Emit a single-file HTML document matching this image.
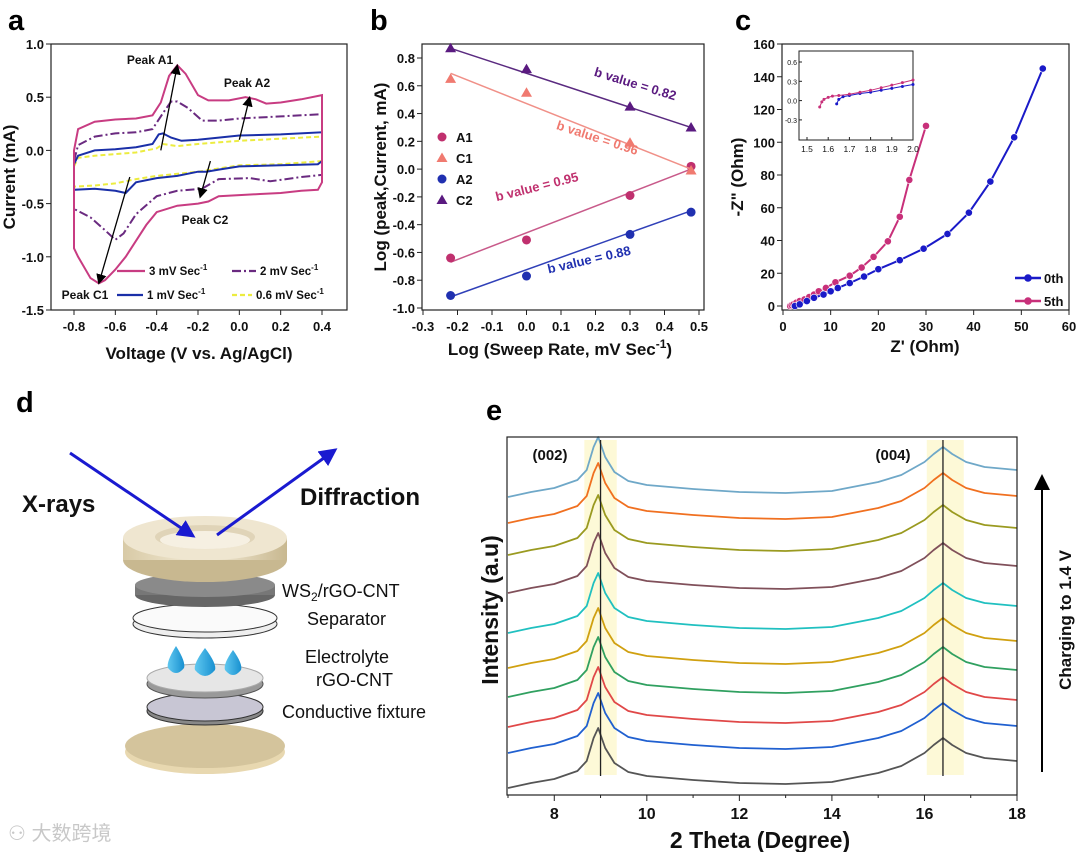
<!DOCTYPE html>
<html><head><meta charset="utf-8">
<style>
html,body{margin:0;padding:0;background:#fff;}
svg{display:block;font-family:"Liberation Sans",Arial,sans-serif;}
.tk{font-size:13px;font-weight:bold;fill:#111;}
.ttl{font-size:17px;font-weight:bold;fill:#111;}
.lt{font-size:29px;font-weight:bold;fill:#000;}
</style></head>
<body>
<svg id="fig" width="1080" height="852" viewBox="0 0 1080 852">
<defs>
<marker id="ah" markerWidth="8" markerHeight="8" refX="7" refY="4" orient="auto"><path d="M0,0 L8,4 L0,8 z" fill="#000"/></marker>
<marker id="ahb" markerWidth="6" markerHeight="6" refX="5" refY="3" orient="auto"><path d="M0,0 L6,3 L0,6 z" fill="#1a1ad0"/></marker>
<linearGradient id="gold" x1="0" x2="1"><stop offset="0" stop-color="#d8caa6"/><stop offset=".5" stop-color="#f4ecd8"/><stop offset="1" stop-color="#c8b890"/></linearGradient>
<linearGradient id="dropg" x1="0" x2="1"><stop offset="0" stop-color="#60c8f0"/><stop offset="1" stop-color="#1890d0"/></linearGradient>
</defs>
<g id="pa"></g>
<g id="pb"></g>
<g id="pc"></g>
<g id="pd">
  <text x="16" y="412" class="lt">d</text>
  <text x="22" y="512" font-size="24" font-weight="bold" fill="#111">X-rays</text>
  <text x="300" y="505" font-size="24" font-weight="bold" fill="#111">Diffraction</text>
  <g>
    <ellipse cx="205" cy="752" rx="80" ry="22" fill="#e8d8b0"/>
    <ellipse cx="205" cy="746" rx="80" ry="22" fill="#d4c49c"/>
  </g>
  <g>
    <ellipse cx="205" cy="711" rx="58" ry="14" fill="#888" stroke="#333"/>
    <ellipse cx="205" cy="707" rx="58" ry="14" fill="#c8c6d4" stroke="#333"/>
  </g>
  <g>
    <ellipse cx="205" cy="684" rx="58" ry="14" fill="#999" stroke="#555"/>
    <ellipse cx="205" cy="678" rx="58" ry="14" fill="#e6e6e6" stroke="#aaa"/>
  </g>
  <g>
    <path d="M176,646 Q166,662 168,668 Q176,678 184,668 Q186,662 176,646z" fill="url(#dropg)"/>
    <path d="M205,648 Q193,664 195,670 Q205,682 215,670 Q217,664 205,648z" fill="url(#dropg)"/>
    <path d="M233,650 Q223,664 225,670 Q233,680 241,670 Q243,664 233,650z" fill="url(#dropg)"/>
  </g>
  <g>
    <ellipse cx="205" cy="624" rx="72" ry="14" fill="#eee" stroke="#333"/>
    <ellipse cx="205" cy="618" rx="72" ry="14" fill="#fafafa" stroke="#333"/>
  </g>
  <g>
    <ellipse cx="205" cy="595" rx="70" ry="12" fill="#666"/>
    <rect x="135" y="585" width="140" height="10" fill="#777"/>
    <ellipse cx="205" cy="585" rx="70" ry="12" fill="#8a8a8a"/>
  </g>
  <g>
    <ellipse cx="205" cy="560" rx="82" ry="22" fill="#c8b890"/>
    <rect x="123" y="538" width="164" height="22" fill="url(#gold)"/>
    <ellipse cx="205" cy="538" rx="82" ry="22" fill="#efe6d0"/>
    <ellipse cx="205" cy="537" rx="50" ry="12" fill="#e0d4b8"/>
    <ellipse cx="205" cy="540" rx="45" ry="9" fill="#f6f0e2"/>
  </g>
  <line x1="70" y1="453" x2="193" y2="536" stroke="#1a1ad0" stroke-width="3" marker-end="url(#ahb)"/>
  <line x1="217" y1="535" x2="335" y2="450" stroke="#1a1ad0" stroke-width="3" marker-end="url(#ahb)"/>
  <g font-size="18" fill="#111">
    <text x="282" y="597">WS<tspan font-size="12" dy="4">2</tspan><tspan dy="-4">/rGO-CNT</tspan></text>
    <text x="307" y="625">Separator</text>
    <text x="305" y="663">Electrolyte</text>
    <text x="316" y="686">rGO-CNT</text>
    <text x="282" y="718">Conductive fixture</text>
  </g>
  <text x="8" y="840" font-size="20" fill="#c8c8c8" font-family="'Liberation Sans','Noto Sans CJK SC',sans-serif">⚇ 大数跨境</text>
</g>
<g id="pe"></g>
</svg>
<script>
// ---------- Panel a data ----------
const cv3x=[-0.8,-0.78,-0.7,-0.6,-0.5,-0.42,-0.38,-0.34,-0.3,-0.26,-0.2,-0.15,-0.05,0.03,0.08,0.13,0.2,0.3,0.4,0.4,0.38,0.3,0.2,0.1,0.0,-0.1,-0.15,-0.2,-0.3,-0.4,-0.45,-0.5,-0.55,-0.6,-0.65,-0.68,-0.72,-0.78,-0.8];
const cv3y=[0.0,0.2,0.27,0.29,0.3,0.33,0.45,0.7,0.8,0.72,0.52,0.47,0.47,0.5,0.48,0.44,0.45,0.48,0.52,-0.3,-0.37,-0.38,-0.4,-0.41,-0.42,-0.43,-0.48,-0.5,-0.52,-0.58,-0.7,-0.85,-1.0,-1.12,-1.22,-1.25,-1.2,-1.0,-0.92];
const cv2x=[-0.8,-0.78,-0.7,-0.6,-0.5,-0.42,-0.37,-0.33,-0.3,-0.25,-0.18,-0.1,0,0.2,0.4,0.4,0.3,0.15,0.05,-0.1,-0.18,-0.3,-0.4,-0.5,-0.56,-0.6,-0.65,-0.72,-0.8];
const cv2y=[-0.1,0.05,0.13,0.16,0.17,0.2,0.35,0.46,0.46,0.4,0.28,0.28,0.3,0.32,0.34,-0.23,-0.25,-0.29,-0.26,-0.27,-0.36,-0.38,-0.43,-0.6,-0.78,-0.84,-0.75,-0.63,-0.55];
const cv1x=[-0.8,-0.78,-0.7,-0.6,-0.5,-0.42,-0.39,-0.37,-0.33,-0.28,-0.2,-0.1,0,0.2,0.4,0.4,0.38,0.2,0.0,-0.1,-0.16,-0.2,-0.3,-0.4,-0.5,-0.55,-0.6,-0.7,-0.8];
const cv1y=[-0.13,-0.05,0.0,0.01,0.03,0.06,0.15,0.16,0.12,0.09,0.1,0.12,0.14,0.15,0.17,-0.1,-0.13,-0.14,-0.15,-0.18,-0.2,-0.2,-0.24,-0.26,-0.3,-0.4,-0.38,-0.36,-0.37];
const cv06x=[-0.8,-0.78,-0.7,-0.5,-0.4,-0.37,-0.3,-0.2,0,0.2,0.4,0.4,0.2,0,-0.2,-0.4,-0.5,-0.6,-0.7,-0.8];
const cv06y=[-0.15,-0.07,-0.05,-0.02,0.02,0.06,0.04,0.06,0.09,0.11,0.13,-0.1,-0.13,-0.14,-0.2,-0.24,-0.27,-0.31,-0.33,-0.34];
const aXTicks=["-0.8","-0.6","-0.4","-0.2","0.0","0.2","0.4"];
const aYTicks=["1.0","0.5","0.0","-0.5","-1.0","-1.5"];
// ---------- Panel b data ----------
const bX=[-0.22,0,0.3,0.477];
const bA1=[-0.64,-0.51,-0.19,0.02];
const bC1=[0.65,0.55,0.19,-0.01];
const bA2=[-0.91,-0.77,-0.47,-0.31];
const bC2=[0.87,0.72,0.45,0.30];
const bFitA1=[-0.67,0.0], bFitC1=[0.69,0.0], bFitA2=[-0.92,-0.30], bFitC2=[0.87,0.30];
const bXTicks=["-0.3","-0.2","-0.1","0.0","0.1","0.2","0.3","0.4","0.5"];
const bYTicks=["0.8","0.6","0.4","0.2","0.0","-0.2","-0.4","-0.6","-0.8","-1.0"];
// ---------- Panel c data ----------
const c0x=[2.5,3.5,5,6.5,8.5,10,11.5,14,17,20,24.5,29.5,34.5,39,43.5,48.5,54.5];
const c0y=[0,1,3,5,7,9,11,14,18,22.5,28,35,44,57,76,103,145];
const c5x=[1.5,1.8,2.2,2.8,3.5,4.5,5.5,6.5,7.5,9,11,14,16.5,19,22,24.5,26.5,30];
const c5y=[0,0.5,1,2,3,4,5.5,7,9,11,14.5,18.5,23.5,30,39.5,54.5,77,110];
const i5x=[1.56,1.57,1.58,1.6,1.62,1.65,1.7,1.75,1.8,1.85,1.9,1.95,2.0];
const i5y=[-0.1,-0.02,0.02,0.05,0.07,0.08,0.1,0.13,0.16,0.2,0.24,0.28,0.32];
const i0x=[1.64,1.65,1.67,1.7,1.75,1.8,1.85,1.9,1.95,2.0];
const i0y=[-0.05,0.02,0.06,0.08,0.11,0.13,0.16,0.19,0.22,0.25];
const cXTicks=["0","10","20","30","40","50","60"];
const cYTicks=["0","20","40","60","80","100","120","140","160"];
// ---------- Panel e data ----------
const eTheta=[7,7.5,8,8.5,8.7,8.85,8.95,9.1,9.3,9.6,10,11,12,13,14,15,15.5,16,16.2,16.4,16.6,16.9,17.3,18];
const eProfile=[-5,0,4,12,22,45,55,35,20,11,7,3,0,-1,1,10,17,30,38,45,38,30,25,22];
const eOffsets=[12,47,73,103,132,167,207,245,277,303];
const eColors=["#555555","#2060d0","#e04848","#30a060","#d0a010","#20c0c0","#80505a","#9a9a20","#f07020","#6fa8c8"];
const eXTicks=["8","10","12","14","16","18"];

const NS="http://www.w3.org/2000/svg";
function mk(parent,tag,attrs){const e=document.createElementNS(NS,tag);for(const k in attrs)e.setAttribute(k,attrs[k]);parent.appendChild(e);return e;}
function txt(parent,x,y,s,attrs){const t=mk(parent,'text',Object.assign({x:x,y:y},attrs||{}));t.textContent=s;return t;}
function lin(d0,d1,r0,r1){return v=>r0+(v-d0)*(r1-r0)/(d1-d0);}
function pathD(xs,ys,sx,sy,close){return xs.map((v,i)=>(i?'L':'M')+sx(v).toFixed(1)+','+sy(ys[i]).toFixed(1)).join(' ')+(close?' Z':'');}

// ===== Panel a =====
(function(){
const g=document.getElementById('pa');
const sx=lin(-0.8,0.4,74,322), sy=lin(1.0,-1.5,44,310);
let t=txt(g,8,30,'a',{class:'lt'});

const box=mk(g,'rect',{x:51,y:44,width:296,height:266,fill:'none',stroke:'#222','stroke-width':1.2});

const xv=[-0.8,-0.6,-0.4,-0.2,0,0.2,0.4];
xv.forEach((v,i)=>{mk(g,'line',{x1:sx(v),x2:sx(v),y1:310,y2:315,stroke:'#222'});
 const l=txt(g,sx(v),331,aXTicks[i],{class:'tk','text-anchor':'middle'});
 });
const yv=[1,0.5,0,-0.5,-1,-1.5];
yv.forEach((v,i)=>{mk(g,'line',{x1:46,x2:51,y1:sy(v),y2:sy(v),stroke:'#222'});
 const l=txt(g,44,sy(v)+5,aYTicks[i],{class:'tk','text-anchor':'end'});
 });
const xt=txt(g,199,359,'Voltage (V vs. Ag/AgCl)',{class:'ttl','text-anchor':'middle'});

const yt=txt(g,0,0,'Current (mA)',{class:'ttl','text-anchor':'middle',transform:'translate(15,177) rotate(-90)'});

const curves=[[cv06x,cv06y,'#ecec40','5,3','cv-0.6mV'],[cv1x,cv1y,'#1a2fa8','','cv-1mV'],[cv2x,cv2y,'#6a2a80','9,3,2,3','cv-2mV'],[cv3x,cv3y,'#c83c82','','cv-3mV']];
curves.forEach(c=>{const p=mk(g,'path',{d:pathD(c[0],c[1],sx,sy,true),fill:'none',stroke:c[2],'stroke-width':2,'stroke-dasharray':c[3]});
 });
const arrows=[[-0.38,0.0,-0.3,0.8],[0.0,0.1,0.05,0.5],[-0.14,-0.1,-0.19,-0.44],[-0.53,-0.25,-0.68,-1.25]];
arrows.forEach(a=>{const l=mk(g,'line',{x1:sx(a[0]),y1:sy(a[1]),x2:sx(a[2]),y2:sy(a[3]),stroke:'#000','stroke-width':1.3,'marker-end':'url(#ah)'});
 });
[['Peak A1',150,64],['Peak A2',247,87],['Peak C2',205,224],['Peak C1',85,299]].forEach(p=>{
 const l=txt(g,p[1],p[2],p[0],{'font-size':12,'font-weight':'bold','text-anchor':'middle',fill:'#111'});
 });
const leg=[[117,145,271,'#c83c82','','3'],[232,256,271,'#6a2a80','9,3,2,3','2'],[117,143,295,'#1a2fa8','','1'],[232,252,295,'#ecec40','5,3','0.6']];
leg.forEach(L=>{const lg=mk(g,'g',{});
 
 mk(lg,'line',{x1:L[0],x2:L[1],y1:L[2],y2:L[2],stroke:L[3],'stroke-width':2.2,'stroke-dasharray':L[4]});
 const tt=txt(lg,L[1]+4,L[2]+4,L[5]+' mV Sec',{'font-size':11.5,'font-weight':'bold',fill:'#111'});
 const sp=mk(tt,'tspan',{'font-size':8,dy:-5});sp.textContent='-1';});
})();

// ===== Panel b =====
(function(){
const g=document.getElementById('pb');
const sx=lin(-0.3,0.5,423,699), sy=lin(0.8,-1.0,58,308);
const t=txt(g,370,30,'b',{class:'lt'});

const box=mk(g,'rect',{x:422,y:44,width:282,height:266,fill:'none',stroke:'#222','stroke-width':1.2});

bXTicks.forEach(s=>{const v=parseFloat(s);mk(g,'line',{x1:sx(v),x2:sx(v),y1:310,y2:315,stroke:'#222'});
 const l=txt(g,sx(v),331,s,{class:'tk','text-anchor':'middle'});
 });
bYTicks.forEach(s=>{const v=parseFloat(s);mk(g,'line',{x1:417,x2:422,y1:sy(v),y2:sy(v),stroke:'#222'});
 const l=txt(g,415,sy(v)+5,s,{class:'tk','text-anchor':'end'});
 });
const xt=txt(g,560,355,'Log (Sweep Rate, mV Sec',{class:'ttl','text-anchor':'middle'});
const sp=mk(xt,'tspan',{'font-size':12,dy:-7});sp.textContent='-1';const sp2=mk(xt,'tspan',{dy:7});sp2.textContent=')';

const yt=txt(g,0,0,'Log (peak,Current, mA)',{class:'ttl','text-anchor':'middle',transform:'translate(386,177) rotate(-90)'});

const ser=[[bA1,bFitA1,'#c0306e','#c85a8a','circle','series-a1'],[bC1,bFitC1,'#f07a70','#f09088','tri','series-c1'],[bA2,bFitA2,'#2030b0','#3040b8','circle','series-a2'],[bC2,bFitC2,'#5a1a80','#5a2a80','tri','series-c2']];
const x0=bX[0],x1=bX[bX.length-1];
ser.forEach(s=>{const sg=mk(g,'g',{});
 
 mk(sg,'line',{x1:sx(x0),y1:sy(s[1][0]),x2:sx(x1),y2:sy(s[1][1]),stroke:s[3],'stroke-width':1.5});
 bX.forEach((xv,i)=>{const px=sx(xv),py=sy(s[0][i]);let m;
  if(s[4]==='circle')m=mk(sg,'circle',{cx:px,cy:py,r:4.5,fill:s[2]});
  else m=mk(sg,'path',{d:`M${px},${py-5.5} L${px+5.5},${py+4} L${px-5.5},${py+4} Z`,fill:s[2]});
  });});
[['b value = 0.82',634,88,17,'#5a1a80'],['b value = 0.96',596,142,18,'#f07a70'],['b value = 0.95',538,191,-14,'#c0306e'],['b value = 0.88',590,264,-13,'#2030b0']].forEach(b=>{
 const l=txt(g,0,0,b[0],{'font-size':13,'font-weight':'bold',fill:b[4],'text-anchor':'middle',transform:`translate(${b[1]},${b[2]}) rotate(${b[3]})`});
 });
[['A1','#c0306e','c',137],['C1','#f07a70','t',158],['A2','#2030b0','c',179],['C2','#5a1a80','t',200]].forEach(L=>{
 const lg=mk(g,'g',{});
 if(L[2]==='c')mk(lg,'circle',{cx:442,cy:L[3],r:4.5,fill:L[1]});
 else mk(lg,'path',{d:`M442,${L[3]-5.5} L447.5,${L[3]+4} L436.5,${L[3]+4} Z`,fill:L[1]});
 txt(lg,456,L[3]+5,L[0],{'font-size':13,'font-weight':'bold',fill:'#111'});});
})();

// ===== Panel c =====
(function(){
const g=document.getElementById('pc');
const sx=lin(0,60,783,1069), sy=lin(0,160,306,44);
const t=txt(g,735,30,'c',{class:'lt'});

const box=mk(g,'rect',{x:782,y:44,width:287,height:266,fill:'none',stroke:'#222','stroke-width':1.2});

cXTicks.forEach(s=>{const v=+s;mk(g,'line',{x1:sx(v),x2:sx(v),y1:310,y2:315,stroke:'#222'});
 const l=txt(g,sx(v),331,s,{class:'tk','text-anchor':'middle'});
 });
cYTicks.forEach(s=>{const v=+s;mk(g,'line',{x1:777,x2:782,y1:sy(v),y2:sy(v),stroke:'#222'});
 const l=txt(g,775,sy(v)+5,s,{class:'tk','text-anchor':'end'});
 });
const xt=txt(g,925,352,"Z' (Ohm)",{class:'ttl','text-anchor':'middle'});

const yt=txt(g,0,0,'-Z" (Ohm)',{class:'ttl','text-anchor':'middle',transform:'translate(743,177) rotate(-90)'});

[[c5x,c5y,'#c8307a','series-5th'],[c0x,c0y,'#1a1ac8','series-0th']].forEach(s=>{
 const sg=mk(g,'g',{});
 mk(sg,'path',{d:pathD(s[0],s[1],sx,sy),fill:'none',stroke:s[2],'stroke-width':2});
 s[0].forEach((v,i)=>{const c=mk(sg,'circle',{cx:sx(v),cy:sy(s[1][i]),r:3.6,fill:s[2],stroke:'#fff','stroke-width':0.6});
  });});
[['0th','#1a1ac8',278],['5th','#c8307a',301]].forEach(L=>{
 const lg=mk(g,'g',{});
 mk(lg,'line',{x1:1015,x2:1041,y1:L[2],y2:L[2],stroke:L[1],'stroke-width':2.5});
 mk(lg,'circle',{cx:1028,cy:L[2],r:3.8,fill:L[1]});
 txt(lg,1044,L[2]+5,L[0],{'font-size':13,'font-weight':'bold',fill:'#111'});});
const ig=mk(g,'g',{});
const ix=lin(1.5,2.0,807,913), iy=lin(0,0.6,100.6,62);
mk(ig,'rect',{x:799,y:51,width:114,height:89,fill:'#fff',stroke:'#222'});
['1.5','1.6','1.7','1.8','1.9','2.0'].forEach(s=>{const v=+s;mk(ig,'line',{x1:ix(v),x2:ix(v),y1:140,y2:137,stroke:'#222'});
 txt(ig,ix(v),152,s,{'font-size':8.5,'text-anchor':'middle',fill:'#111'});});
['0.6','0.3','0.0','-0.3'].forEach(s=>{const v=+s;mk(ig,'line',{x1:799,x2:802,y1:iy(v),y2:iy(v),stroke:'#222'});
 txt(ig,797,iy(v)+3,s,{'font-size':7,'text-anchor':'end',fill:'#111'});});
[[i0x,i0y,'#1a1ac8'],[i5x,i5y,'#c8307a']].forEach(s=>{
 mk(ig,'path',{d:pathD(s[0],s[1],ix,iy),fill:'none',stroke:s[2],'stroke-width':1});
 s[0].forEach((v,i)=>mk(ig,'circle',{cx:ix(v),cy:iy(s[1][i]),r:1.5,fill:s[2]}));});
})();

// ===== Panel e =====
(function(){
const g=document.getElementById('pe');
const sx=lin(7,18,508,1017), sy=lin(0,358,795,437);
const t=txt(g,486,420,'e',{class:'lt'});

[[8.65,9.35],[16.05,16.85]].forEach(b=>{const r=mk(g,'rect',{x:sx(b[0]),y:440,width:sx(b[1])-sx(b[0]),height:335,fill:'#fdf8d0',opacity:0.85});
 });
eOffsets.forEach((off,k)=>{const p=mk(g,'path',{d:pathD(eTheta,eProfile.map(v=>v+off),sx,sy),fill:'none',stroke:eColors[k],'stroke-width':1.8,'stroke-linejoin':'round'});
 });
[9.0,16.4].forEach(v=>{const l=mk(g,'line',{x1:sx(v),x2:sx(v),y1:440,y2:776,stroke:'#222','stroke-width':1.3});
 });
const box=mk(g,'rect',{x:507,y:437,width:510,height:358,fill:'none',stroke:'#222','stroke-width':1.2});

for(let v=7;v<=18;v++){mk(g,'line',{x1:sx(v),x2:sx(v),y1:795,y2:v%2===0?801:798,stroke:'#222'});}
eXTicks.forEach(s=>{const l=txt(g,sx(+s),819,s,{'font-size':16,'font-weight':'bold','text-anchor':'middle',fill:'#111'});
 });
const xt=txt(g,760,848,'2 Theta (Degree)',{'font-size':23,'font-weight':'bold','text-anchor':'middle',fill:'#111'});

const yt=txt(g,0,0,'Intensity (a.u)',{'font-size':23,'font-weight':'bold','text-anchor':'middle',fill:'#111',transform:'translate(498,610) rotate(-90)'});

[['(002)',550,460],['(004)',893,460]].forEach(p=>{const l=txt(g,p[1],p[2],p[0],{'font-size':15,'font-weight':'bold','text-anchor':'middle',fill:'#111'});
 });
const ar=mk(g,'line',{x1:1042,y1:772,x2:1042,y2:476,stroke:'#000','stroke-width':2,'marker-end':'url(#ah)'});

const ct=txt(g,0,0,'Charging to 1.4 V',{'font-size':17,'font-weight':'bold','text-anchor':'middle',fill:'#111',transform:'translate(1071,620) rotate(-90)'});

})();
</script>
</body></html>
